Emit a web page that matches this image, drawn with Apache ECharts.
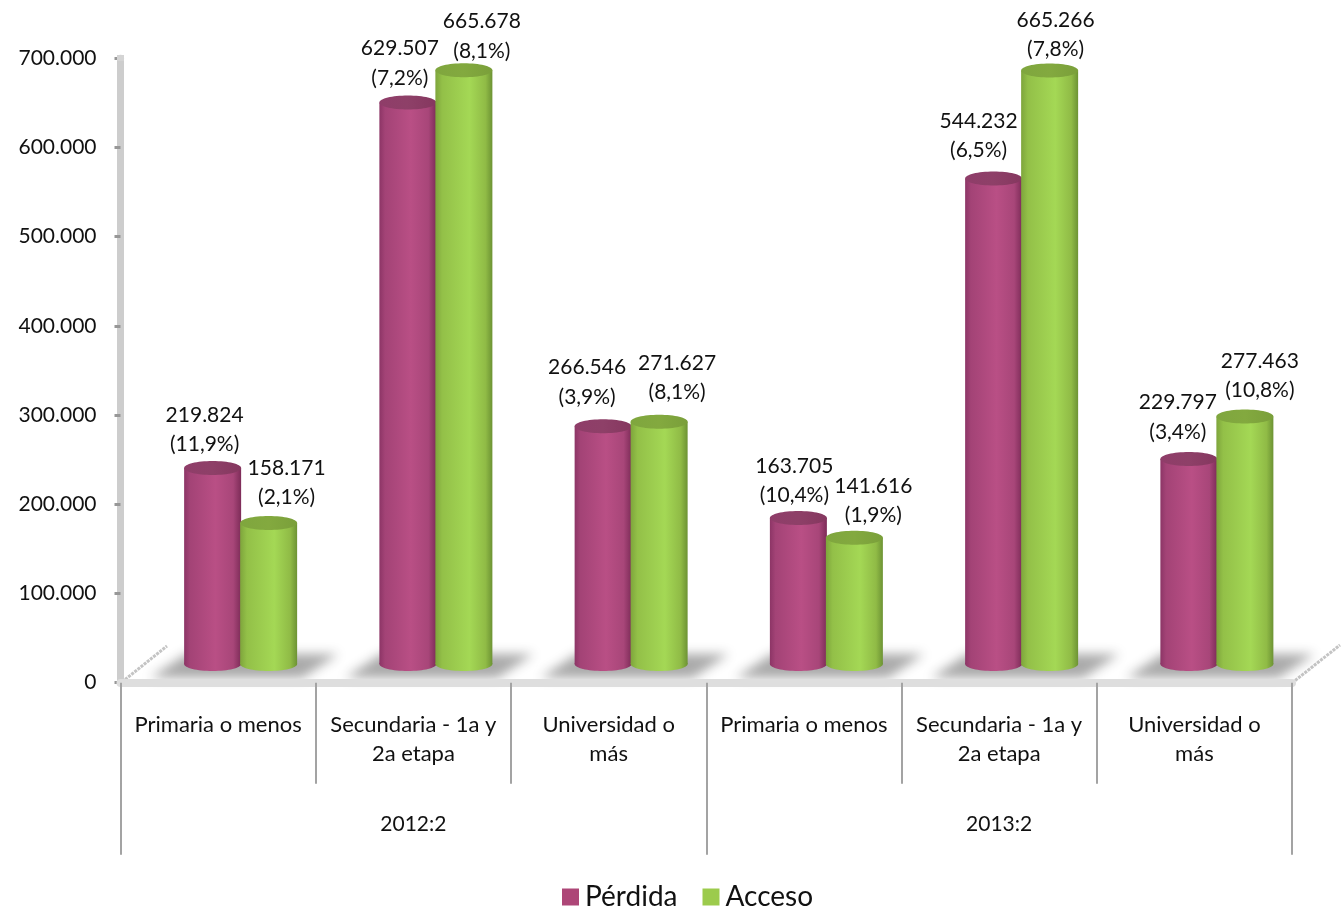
<!DOCTYPE html>
<html>
<head>
<meta charset="utf-8">
<style>html,body{margin:0;padding:0;background:#fff}#c{width:1343px;height:909px}</style>
<script src="https://cdn.jsdelivr.net/npm/echarts@6/dist/echarts.min.js"></script>
</head>
<body>
<div id="c"></div>
<script>
var categories = ['Primaria o menos','Secundaria - 1a y\n2a etapa','Universidad o\nmás','Primaria o menos','Secundaria - 1a y\n2a etapa','Universidad o\nmás'];
var years = ['2012:2','2013:2'];
var perdida = [219824,629507,266546,163705,544232,229797];
var acceso = [158171,665678,271627,141616,665266,277463];
var perdidaPct = ['(11,9%)','(7,2%)','(3,9%)','(10,4%)','(6,5%)','(3,4%)'];
var accesoPct = ['(2,1%)','(8,1%)','(8,1%)','(1,9%)','(7,8%)','(10,8%)'];

// hand placement of each value label relative to the top of its cylinder
var perdidaNudgeX = [-8,-8,-16,-4,-15,-11];
var perdidaNudgeY = [-38,-39,-44,-37,-43,-42];
var accesoNudgeX = [18,18,18,19,6,15];
var accesoNudgeY = [-40,-34,-44,-37,-36,-41];

var FONT = 'Lato';
var INK = '#111111';

function fmt(v){ return String(v).replace(/\B(?=(\d{3})+$)/g,'.'); }
function grad(stops){
  return new echarts.graphic.LinearGradient(0,0,1,0,stops.map(function(s){return {offset:s[0],color:s[1]};}));
}
var magBody = [[0,'#8c3566'],[0.1,'#a34376'],[0.55,'#b94f85'],[0.86,'#a84679'],[1,'#7d2c58']];
var magCap  = [[0,'#8f3d69'],[0.5,'#8e4068'],[1,'#85375f']];
var grnBody = [[0,'#7ea53c'],[0.12,'#93c048'],[0.6,'#a4d855'],[0.88,'#90bb46'],[1,'#6d9334']];
var grnCap  = [[0,'#7fa63e'],[0.5,'#83a93f'],[1,'#7a9f3a']];

function cylinder(shift,body,cap,pct,nx,ny){
  return function(params,api){
    var i = api.value(0), v = api.value(1);
    var base = api.coord([i,0]), top = api.coord([i,v]);
    var half = 28.5, ry = 7;
    var cx = base[0] + shift;
    return {type:'group',children:[
      {type:'rect',shape:{x:cx-half,y:top[1],width:half*2,height:base[1]-top[1]},style:{fill:grad(body)}},
      {type:'ellipse',shape:{cx:cx,cy:base[1],rx:half,ry:ry},style:{fill:grad(body)}},
      {type:'ellipse',shape:{cx:cx,cy:top[1],rx:half,ry:ry},style:{fill:grad(cap)}},
      {type:'text',z2:100,style:{text:fmt(v)+'\n'+pct[i],x:cx+nx[i],y:top[1]+ny[i],align:'center',verticalAlign:'middle',
        fontFamily:FONT,fontSize:21,lineHeight:29.5,fill:INK}}
    ]};
  };
}
var OFF = 3000; // shape sits off canvas: only its blurred shadow lands on the floor
function floorShadow(params,api){
  var b = api.coord([api.value(0),0]);
  var x = b[0]-OFF, y = b[1];
  return {type:'polygon',shape:{points:[[x-90,y+14],[x-54,y-10],[x+98,y-10],[x+62,y+14]]},
    style:{fill:'#999',shadowBlur:11,shadowOffsetX:OFF,shadowColor:'rgba(165,165,165,0.95)'}};
}
var idx = categories.map(function(_,i){return i;});
function rows(vals){ return vals.map(function(v,i){return [i,v];}); }

var chart = echarts.init(document.getElementById('c'),null,{renderer:'canvas'});
chart.setOption({
  animation:false,
  backgroundColor:'#fff',
  grid:[
    {left:120.5,right:51,top:58.3,height:624.4,containLabel:false},
    {left:142.5,right:29,top:39.6,height:624.4,containLabel:false}
  ],
  xAxis:[
    {type:'category',gridIndex:0,data:categories,boundaryGap:true,z:5,
      axisLine:{show:true,lineStyle:{color:'#dedede',width:8}},
      axisTick:{show:true,length:101,alignWithLabel:false,lineStyle:{color:'#a3a3a3',width:2}},
      axisLabel:{interval:0,margin:28,verticalAlign:'top',fontFamily:FONT,fontSize:22,lineHeight:29,color:INK},
      splitLine:{show:false}},
    {type:'category',gridIndex:0,position:'bottom',data:years,boundaryGap:true,
      axisLine:{show:false},
      axisTick:{show:true,length:172,lineStyle:{color:'#a3a3a3',width:2}},
      axisLabel:{interval:0,margin:127,verticalAlign:'top',fontFamily:FONT,fontSize:21,lineHeight:29,color:INK},
      splitLine:{show:false}},
    {type:'category',gridIndex:1,data:categories,show:false}
  ],
  yAxis:[
    {type:'value',gridIndex:0,min:0,max:700000,interval:100000,
      axisLine:{show:true,lineStyle:{color:'#cdcdcd',width:7}},
      axisTick:{show:true,length:6,lineStyle:{color:'#979797',width:3}},
      axisLabel:{margin:24,fontFamily:FONT,fontSize:21,color:INK,padding:[8,0,0,0],
        formatter:function(v){return fmt(v);}},
      splitLine:{show:false}},
    {type:'value',gridIndex:1,min:0,max:700000,interval:100000,show:false}
  ],
  legend:{show:true,left:557,top:878,icon:'rect',itemWidth:17,itemHeight:17,itemGap:25,
    data:['Pérdida','Acceso'],
    textStyle:{fontFamily:FONT,fontSize:28,color:INK,padding:[0,0,0,1]}},
  graphic:[
    {type:'line',silent:true,z:1,shape:{x1:122,y1:682,x2:167,y2:646},style:{stroke:'#c4c4c4',lineWidth:3,lineDash:[3,1]}},
    {type:'line',silent:true,z:1,shape:{x1:1292,y1:683,x2:1340,y2:645},style:{stroke:'#c4c4c4',lineWidth:3,lineDash:[3,1]}},
    {type:'rect',silent:true,z:1,shape:{x:117,y:55,width:7,height:6},style:{fill:'#d4d4d4'}}
  ],
  series:[
    {type:'custom',name:'sombra',xAxisIndex:2,yAxisIndex:1,z:2,silent:true,clip:false,
      data:idx.map(function(i){return [i,0];}),encode:{x:0,y:1},renderItem:floorShadow},
    {type:'custom',name:'Pérdida',xAxisIndex:2,yAxisIndex:1,z:3,clip:false,
      itemStyle:{color:'#ad4677'},data:rows(perdida),encode:{x:0,y:1},
      renderItem:cylinder(-27.5,magBody,magCap,perdidaPct,perdidaNudgeX,perdidaNudgeY)},
    {type:'custom',name:'Acceso',xAxisIndex:2,yAxisIndex:1,z:4,clip:false,
      itemStyle:{color:'#9ccb4c'},data:rows(acceso),encode:{x:0,y:1},
      renderItem:cylinder(28.5,grnBody,grnCap,accesoPct,accesoNudgeX,accesoNudgeY)}
  ]
});
</script>
</body>
</html>
